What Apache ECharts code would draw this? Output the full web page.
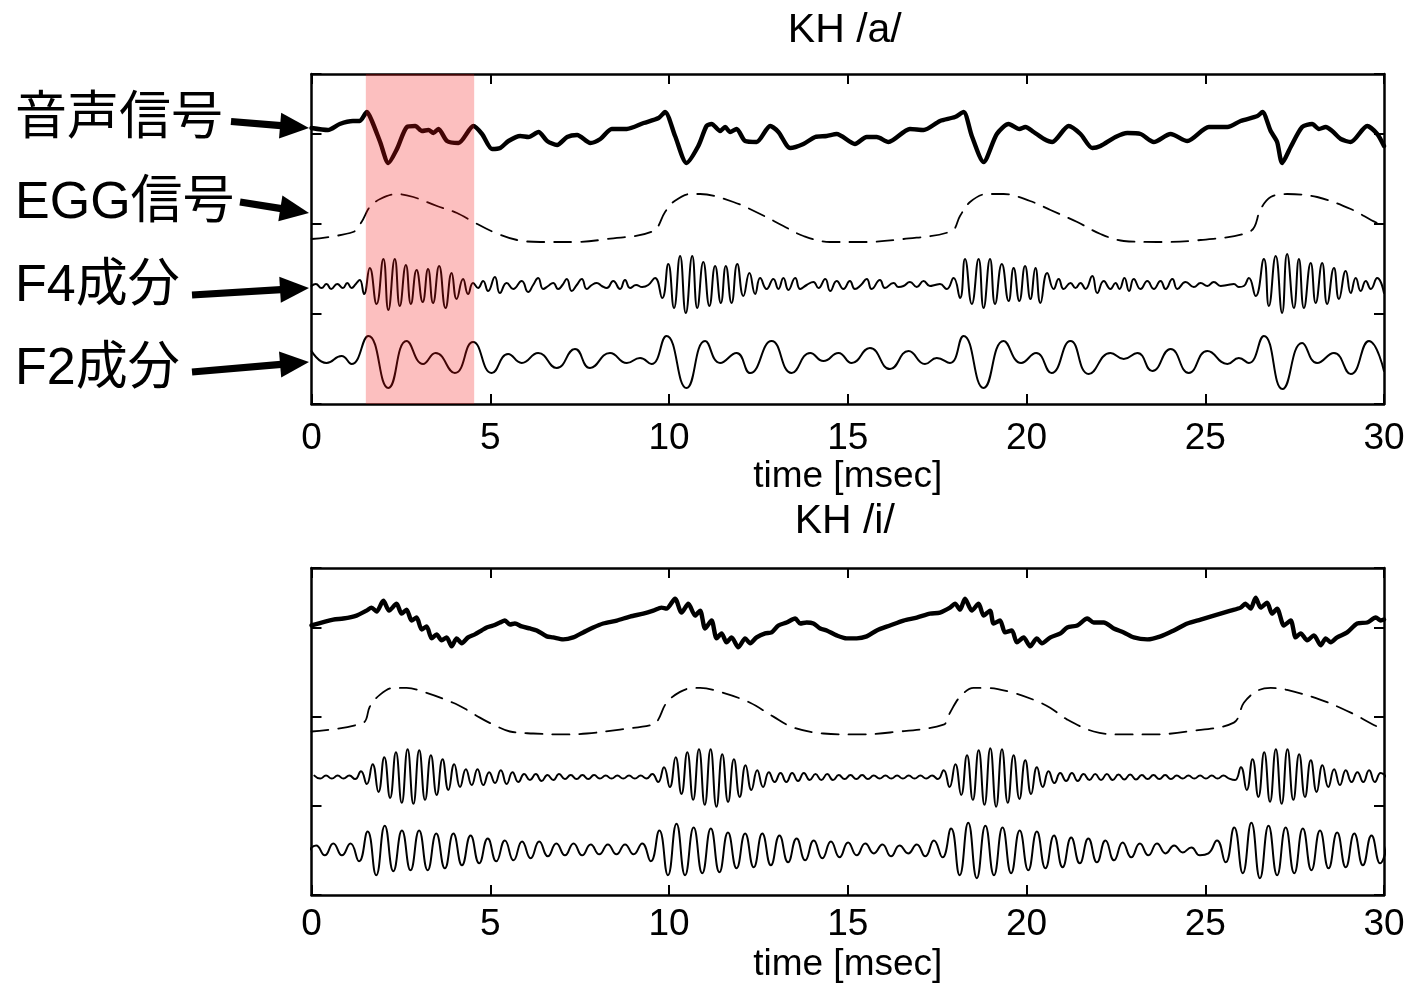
<!DOCTYPE html>
<html><head><meta charset="utf-8">
<script src="https://cdn.jsdelivr.net/npm/echarts@6/dist/echarts.min.js"></script>
<style>html,body{margin:0;padding:0;background:#fff}#c{width:1409px;height:984px}</style>
</head><body><div id="c"></div>
<script>
// ---------------- data ----------------
const titles = ['KH /a/', 'KH /i/'];
const traceLabels = ['音声信号', 'EGG信号', 'F4成分', 'F2成分'];
const xName = 'time [msec]';
const timeMin = 0, timeMax = 30, timeTick = 5;
const levelMin = -90, levelMax = 240, levelTick = 90;
const shadeRange = [1.52, 4.55];

// /a/ speech signal [t(ms), level]
const aSpeech = [[0,186],[0.46,184],[0.79,190],[1.16,193],[1.35,193],[1.55,202],[1.69,193],[1.92,172],[2.15,151],[2.39,165],[2.67,187],[2.9,188],[3.09,183],[3.27,184],[3.41,181],[3.55,185],[3.79,173],[4.11,171],[4.53,188],[4.77,180],[5.05,165],[5.28,166],[5.51,173],[5.84,178],[6.07,177],[6.35,182],[6.59,173],[6.87,169],[7.15,177],[7.43,179],[7.8,171],[8.08,175],[8.4,185],[8.82,185],[9.29,191],[9.71,196],[9.89,202],[10.17,178],[10.49,151],[10.82,168],[11.05,188],[11.19,190],[11.43,183],[11.57,187],[11.71,182],[11.89,185],[12.13,173],[12.45,172],[12.83,188],[13.06,182],[13.39,166],[13.76,170],[14.09,177],[14.41,178],[14.69,180],[15.2,170],[15.53,177],[15.81,177],[16.14,172],[16.74,185],[17.12,184],[17.58,193],[18.0,197],[18.24,202],[18.47,178],[18.8,152],[19.17,180],[19.5,190],[19.8,185],[19.97,187],[20.2,182],[20.49,175],[20.72,172],[21.18,188],[21.51,180],[21.84,166],[22.07,168],[22.49,177],[22.82,181],[23.19,180],[23.56,172],[24.03,180],[24.5,173],[25.1,187],[25.62,187],[25.99,193],[26.46,198],[26.6,202],[26.83,183],[27.01,172],[27.15,151],[27.39,167],[27.71,187],[27.99,190],[28.18,185],[28.37,187],[28.55,183],[28.79,175],[29.07,172],[29.53,188],[29.81,180],[30,168]];
// /a/ EGG
const aEgg = [[0,75],[1.16,82],[1.4,92],[1.63,107],[1.92,115],[2.39,120],[2.85,117],[3.51,108],[4.07,101],[4.53,92],[5.09,82],[5.75,74],[6.4,72],[7.33,72],[8.27,75],[9.56,83],[9.89,102],[10.12,112],[10.59,120],[10.87,120],[11.8,112],[12.55,100],[13.2,88],[13.76,78],[14.5,72],[15.44,72],[16.56,75],[17.91,83],[18.14,98],[18.42,112],[18.89,120],[19.36,120],[20.1,113],[20.67,104],[21.42,92],[22.07,80],[22.72,73],[23.66,72],[24.87,74],[26.27,83],[26.55,105],[26.83,117],[27.29,120],[28.13,117],[29.07,105],[29.81,91],[30,90]];
// /a/ F4 component (relative to its baseline)
const aF4Base = 28;
const aF4 = [[0,0],[0.12,2],[0.28,-2],[0.42,2],[0.55,-3],[0.72,2],[0.88,-2],[1.0,3],[1.12,-2],[1.24,2],[1.35,6],[1.47,-8],[1.63,18],[1.82,-18],[2.01,27],[2.15,-24],[2.33,27],[2.47,-20],[2.64,21],[2.78,-18],[2.94,16],[3.11,-16],[3.26,17],[3.4,-17],[3.57,20],[3.75,-22],[3.92,13],[4.06,-13],[4.24,7],[4.38,-8],[4.52,3],[4.66,-2],[4.8,5],[4.94,-5],[5.13,9],[5.27,-7],[5.46,3],[5.64,-3],[5.88,5],[6.06,-6],[6.2,1],[6.34,8],[6.48,-3],[6.62,0],[6.76,3],[6.9,-3],[7.02,1],[7.14,7],[7.28,-5],[7.42,1],[7.56,7],[7.7,-3],[7.84,1],[7.98,3],[8.12,0],[8.26,-2],[8.44,5],[8.63,-3],[8.77,6],[8.91,-2],[9.08,1],[9.25,-1],[9.42,1],[9.61,8],[9.81,-12],[9.98,22],[10.14,-22],[10.31,30],[10.47,-27],[10.65,30],[10.79,-22],[10.96,24],[11.13,-20],[11.29,20],[11.45,-17],[11.59,20],[11.75,-17],[11.91,22],[12.08,-10],[12.25,13],[12.41,-8],[12.55,8],[12.73,-3],[12.92,7],[13.06,-3],[13.2,8],[13.34,-4],[13.53,8],[13.67,-3],[13.85,1],[14.04,4],[14.18,-2],[14.37,7],[14.51,-5],[14.69,5],[14.88,-3],[15.06,5],[15.2,-3],[15.37,1],[15.53,7],[15.67,-3],[15.9,6],[16.04,-2],[16.28,3],[16.42,-1],[16.56,0],[16.74,4],[16.93,-1],[17.12,5],[17.3,0],[17.44,1],[17.58,2],[17.77,-3],[17.96,8],[18.14,-12],[18.28,27],[18.47,-18],[18.66,27],[18.8,-22],[18.98,27],[19.12,-18],[19.31,22],[19.5,-15],[19.64,18],[19.8,-15],[19.96,20],[20.11,-13],[20.25,18],[20.39,-17],[20.58,13],[20.76,-3],[20.9,7],[21.04,-3],[21.23,3],[21.37,-2],[21.51,3],[21.65,-3],[21.84,10],[21.98,-7],[22.16,5],[22.35,-3],[22.49,3],[22.6,-3],[22.74,8],[22.87,-5],[23.0,7],[23.19,-3],[23.38,5],[23.56,-3],[23.75,5],[23.89,-3],[24.08,7],[24.22,-3],[24.45,4],[24.68,-1],[24.87,3],[25.06,0],[25.24,4],[25.43,0],[25.62,1],[25.8,2],[25.94,-1],[26.08,0],[26.22,8],[26.41,-10],[26.64,27],[26.78,-20],[26.97,30],[27.15,-27],[27.29,32],[27.48,-22],[27.62,27],[27.76,-22],[27.95,23],[28.09,-17],[28.27,23],[28.41,-18],[28.6,18],[28.74,-13],[28.93,15],[29.07,-7],[29.21,8],[29.35,-5],[29.49,5],[29.63,-3],[29.81,8],[30,-7]];
// /a/ F2 component (relative to its baseline)
const aF2Base = -47;
const aF2 = [[0,10],[0.42,-2],[0.84,5],[1.12,-3],[1.59,25],[2.15,-27],[2.66,20],[3.12,-3],[3.47,8],[4.01,-12],[4.52,19],[5.04,-12],[5.5,7],[5.88,-2],[6.34,8],[6.86,-7],[7.37,12],[7.79,-7],[8.35,8],[8.82,-2],[9.19,3],[9.51,-3],[9.93,25],[10.49,-27],[11.01,20],[11.43,-2],[11.89,8],[12.27,-12],[12.87,20],[13.43,-12],[13.95,8],[14.32,0],[14.74,8],[15.11,-2],[15.62,13],[16.18,-8],[16.7,10],[17.16,-3],[17.49,3],[17.86,-2],[18.24,25],[18.8,-27],[19.36,20],[19.85,-2],[20.27,8],[20.7,-12],[21.23,20],[21.74,-13],[22.35,8],[22.72,2],[23.1,8],[23.52,-10],[24.03,12],[24.54,-12],[25.06,10],[25.62,-3],[25.94,3],[26.22,-2],[26.64,25],[27.16,-28],[27.71,18],[28.13,-2],[28.6,8],[29.07,-13],[29.58,20],[30,-10]];

// /i/ speech signal
const iSpeech = [[0,182],[0.61,188],[0.89,189],[1.26,192],[1.54,197],[1.68,200],[1.82,196],[2.01,207],[2.17,197],[2.38,204],[2.52,194],[2.66,198],[2.8,187],[2.94,190],[3.08,178],[3.22,181],[3.36,169],[3.5,173],[3.64,167],[3.78,170],[3.92,161],[4.06,169],[4.2,164],[4.38,170],[4.57,173],[4.76,177],[4.9,180],[5.08,182],[5.27,185],[5.41,187],[5.55,183],[5.69,184],[5.88,181],[6.11,179],[6.3,177],[6.58,171],[6.76,170],[7.04,168],[7.32,170],[7.6,175],[7.88,180],[8.16,184],[8.54,187],[8.91,191],[9.28,194],[9.56,197],[9.79,200],[9.93,199],[10.17,209],[10.35,195],[10.54,204],[10.73,192],[10.87,197],[11.01,179],[11.19,187],[11.33,169],[11.47,174],[11.61,165],[11.75,170],[11.94,160],[12.13,169],[12.27,164],[12.45,170],[12.69,174],[12.87,175],[13.06,182],[13.29,185],[13.53,189],[13.67,184],[13.85,185],[14.04,184],[14.23,179],[14.41,177],[14.69,172],[14.97,169],[15.25,169],[15.53,171],[15.81,177],[16.18,182],[16.56,187],[16.93,190],[17.3,194],[17.58,195],[17.86,200],[18.0,204],[18.14,198],[18.28,209],[18.47,197],[18.66,204],[18.8,192],[18.98,197],[19.08,184],[19.26,187],[19.4,175],[19.59,177],[19.73,165],[19.92,170],[20.1,161],[20.29,169],[20.43,164],[20.67,170],[20.95,174],[21.14,180],[21.42,182],[21.7,189],[21.88,185],[22.16,185],[22.44,179],[22.72,175],[23.0,170],[23.38,168],[23.75,171],[24.12,177],[24.5,184],[24.87,188],[25.24,192],[25.71,197],[25.99,200],[26.12,204],[26.27,199],[26.41,210],[26.55,200],[26.73,205],[26.87,194],[27.01,199],[27.2,182],[27.39,187],[27.53,170],[27.67,174],[27.85,167],[28.04,172],[28.23,162],[28.37,169],[28.51,165],[28.69,170],[28.97,175],[29.25,184],[29.53,185],[29.77,190],[29.91,187],[30,188]];
// /i/ EGG
const iEgg = [[0,75],[1.45,84],[1.63,100],[1.91,112],[2.29,119],[2.66,119],[3.22,114],[3.96,104],[4.34,97],[4.71,89],[5.08,82],[5.55,75],[6.2,73],[7.04,72],[7.7,73],[8.63,77],[9.56,82],[9.7,87],[9.93,104],[10.31,115],[10.68,119],[10.87,119],[11.52,114],[12.27,104],[12.92,90],[13.48,79],[14.32,73],[15.25,72],[16.18,74],[17.68,82],[17.86,94],[18.14,110],[18.52,119],[18.89,119],[19.54,115],[20.2,107],[20.66,99],[21.14,87],[21.88,75],[22.63,72],[23.56,72],[24.5,75],[25.8,84],[26.08,104],[26.45,116],[26.83,119],[27.29,117],[28.23,107],[29.07,94],[29.81,80],[30,78]];
// /i/ F4 component: extremum samples every 0.163 ms from 0.08 ms
const iF4Base = 29, iF4Start = 0.08, iF4Step = 0.163;
const iF4 = [1.5,-1.5,1.5,-1.5,1.5,-1.5,1.5,-2,
  6,-7,13,-15,20,-21,25,-26,28,-27,27,-23,22,-18,18,-13,13,-10,8,-8,
  8,-8,5,-6,7,-7,5,-5,3,-3,3,-4,2,-3,3,-2,2,-2,2,-2,2,-1.5,1.5,-1.5,1.5,-1.5,1.5,-1.5,1.5,-1.5,
  3,-5,
  10,-10,20,-17,25,-23,28,-28,28,-30,23,-25,18,-20,12,-13,7,-10,
  5,-5,4,-5,4,-4,4,-3,3,-3,3,-3,2,-2,
  2,-2,2,-2,1.5,-1.5,1.5,-1.5,1.5,-1.5,1.5,-1.5,1.5,-1.5,1.5,-2,
  7,-10,13,-18,22,-23,27,-28,29,-30,28,-26,22,-22,17,-17,10,-10,6,-6,
  4,-4,4,-4,3,-3,3,-3,3,-3,2.5,-2.5,2.5,-2.5,2,-2,2,-2,2,-2,1.5,-1.5,1.5,-1.5,1.5,-1.5,1.5,-1.5,1.5,-1.5,
  -3,
  10,-13,18,-20,25,-25,28,-27,28,-23,23,-20,17,-15,12,-10,8,-8,7,-5,5,-5,7,-5,4,0];
// /i/ F2 component: extremum samples every 0.24 ms from -0.11 ms
const iF2Base = -44, iF2Start = -0.11, iF2Step = 0.24;
const iF2 = [-3,4,-6,6,-6,6,-12,18,-26,24,-22,19,-21,19,-21,16,-19,16,-16,14,-14,11,-12,9,-11,8,-9,8,-7,6,-6,6,-6,5,-5,5,-5,5,-5,6,-12,19,-26,26,-26,22,
  -24,21,-23,17,-19,16,-18,16,-16,14,-13,11,-11,9,-9,8,-8,7,-6,6,-4,5,-7,4,-4,5,-7,9,-8,21,-26,27,-29,24,-26,22,-24,19,-21,18,-19,
  14,-18,12,-14,11,-13,9,-11,7,-8,6,-6,6,-4,4,-3,2,-6,-4,9,-13,22,-24,27,-29,24,-26,22,-24,21,-21,19,-19,17,-18,16,-16,14,-14,12];

// ---------------- build ----------------
const shift = (pairs, base) => pairs.map(p => [p[0], p[1] + base]);
const sampled = (start, step, vals, base) => vals.map((v, i) => [+(start + i * step).toFixed(3), v + base]);

const FONT = '"Liberation Sans", Arial, sans-serif';
const GRID_L = 311.5, GRID_W = 1072.5;
const grids = [
  {left: GRID_L, top: 74, width: GRID_W, height: 330},
  {left: GRID_L, top: 568, width: GRID_W, height: 329}
];

function xAxisDef(gi, pos, withLabels, margin, nameGap) {
  return {
    type: 'value', gridIndex: gi, position: pos, min: timeMin, max: timeMax, interval: timeTick,
    axisLine: {show: true, onZero: false, lineStyle: {color: '#000', width: 2.5}},
    axisTick: {show: true, inside: true, length: 10, lineStyle: {color: '#000', width: 2}},
    axisLabel: {show: withLabels, margin: margin, color: '#000', fontSize: 37, fontFamily: FONT, showMinLabel: true, showMaxLabel: true},
    splitLine: {show: false},
    name: withLabels ? xName : '', nameLocation: 'middle', nameGap: nameGap,
    nameTextStyle: {color: '#000', fontSize: 37, fontFamily: FONT}
  };
}
function yAxisDef(gi, pos) {
  return {
    type: 'value', gridIndex: gi, position: pos, min: levelMin, max: levelMax, interval: levelTick,
    axisLine: {show: true, onZero: false, lineStyle: {color: '#000', width: 2.5}},
    axisTick: {show: true, inside: true, length: 10, lineStyle: {color: '#000', width: 2}},
    axisLabel: {show: false}, splitLine: {show: false}
  };
}
function lineSeries(gi, data, width, type, smooth) {
  return {
    type: 'line', xAxisIndex: gi * 2, yAxisIndex: gi * 2, data: data, showSymbol: false, symbol: 'none',
    smooth: smooth, animation: false, silent: true, clip: true,
    lineStyle: {color: '#000', width: width, type: type, cap: 'round', join: 'round'}
  };
}

const dash = [17, 10];
const series = [
  lineSeries(0, aSpeech, 4.4, 'solid', 0.25),
  lineSeries(0, aEgg, 1.8, dash, 0.35),
  lineSeries(0, shift(aF4, aF4Base), 2, 'solid', 0.5),
  lineSeries(0, shift(aF2, aF2Base), 2, 'solid', 0.5),
  lineSeries(1, iSpeech, 4.4, 'solid', 0.25),
  lineSeries(1, iEgg, 1.8, dash, 0.35),
  lineSeries(1, sampled(iF4Start, iF4Step, iF4, iF4Base), 2, 'solid', 0.5),
  lineSeries(1, sampled(iF2Start, iF2Step, iF2, iF2Base), 2, 'solid', 0.5),
  {
    type: 'line', xAxisIndex: 0, yAxisIndex: 0, data: [], z: 10, silent: true, animation: false,
    markArea: {silent: true, z: 10, itemStyle: {color: 'rgba(245,20,20,0.27)'},
      data: [[{xAxis: shadeRange[0]}, {xAxis: shadeRange[1]}]]}
  }
];

// labels and arrows on the left (annotations)
const labelY = [120, 204, 287, 370];
const arrows = [
  [[231, 121.5], [309, 128]],
  [[240, 202], [309, 213]],
  [[192, 295], [309, 288]],
  [[192, 372], [309, 362]]
];
function arrowShapes(a) {
  const [x1, y1] = a[0], [x2, y2] = a[1];
  const L = Math.hypot(x2 - x1, y2 - y1), dx = (x2 - x1) / L, dy = (y2 - y1) / L;
  const nx = -dy, ny = dx, headLen = 29, headW = 13, shaftW = 3.6;
  const bx = x2 - dx * headLen, by = y2 - dy * headLen;
  return [
    {type: 'polygon', shape: {points: [[x1 + nx * shaftW, y1 + ny * shaftW], [bx + dx + nx * shaftW, by + dy + ny * shaftW], [bx + dx - nx * shaftW, by + dy - ny * shaftW], [x1 - nx * shaftW, y1 - ny * shaftW]]}, style: {fill: '#000'}},
    {type: 'polygon', shape: {points: [[x2, y2], [bx + nx * headW, by + ny * headW], [bx - nx * headW, by - ny * headW]]}, style: {fill: '#000'}}
  ];
}
const graphics = [];
traceLabels.forEach((t, i) => {
  graphics.push({type: 'text', x: 15, y: labelY[i], style: {text: t, fill: '#000', font: '52px "Liberation Sans", "Noto Sans CJK JP", sans-serif', align: 'left', verticalAlign: 'middle', textAlign: 'left', textVerticalAlign: 'middle'}});
  arrowShapes(arrows[i]).forEach(s => graphics.push(s));
});

const option = {
  backgroundColor: '#fff',
  animation: false,
  title: titles.map((t, i) => ({
    text: t, left: GRID_L + GRID_W / 2 - 3, top: i === 0 ? 10 : 501, textAlign: 'center', padding: 0,
    textStyle: {color: '#000', fontSize: 41, fontWeight: 'normal', fontFamily: FONT}
  })),
  grid: grids,
  xAxis: [xAxisDef(0, 'bottom', true, 16, 52), xAxisDef(0, 'top', false, 0, 0),
          xAxisDef(1, 'bottom', true, 11, 51), xAxisDef(1, 'top', false, 0, 0)],
  yAxis: [yAxisDef(0, 'left'), yAxisDef(0, 'right'), yAxisDef(1, 'left'), yAxisDef(1, 'right')],
  series: series,
  graphic: graphics
};
const chart = echarts.init(document.getElementById('c'), null, {renderer: 'canvas'});
chart.setOption(option);
</script></body></html>
